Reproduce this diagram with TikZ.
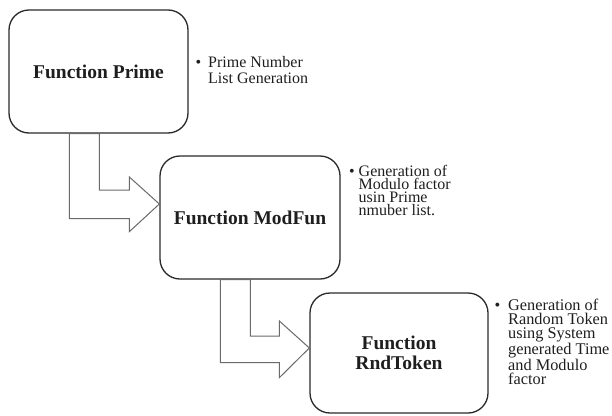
\documentclass[tikz,border=0pt]{standalone}
\usepackage{fontspec}
\setmainfont{Liberation Serif}
\usetikzlibrary{calc}
\definecolor{boxline}{HTML}{2A2A2A}
\definecolor{arrline}{HTML}{6A6A6A}
\definecolor{txt}{HTML}{1E1E1E}
\begin{document}
\begin{tikzpicture}[x=1pt,y=-1pt,
  funcbox/.style={draw=boxline, line width=1.3pt, rounded corners=20pt, inner sep=0pt,
    align=center, text=txt, font=\fontsize{19.5}{20}\selectfont\bfseries},
  blockarrow/.style={draw=arrline, line width=1pt, fill=white, line join=miter},
  note/.style={anchor=base west, inner sep=0pt, text=txt}
]
\useasboundingbox (0,0) rectangle (612,415);
% boxes
\node[funcbox, minimum width=179pt, minimum height=123pt] (p) at (98.5,71.5) {Function Prime};
\node[funcbox, minimum width=180pt, minimum height=123pt] (m) at (250,217.5) {Function ModFun};
\node[funcbox, minimum width=178pt, minimum height=120pt] (r) at (399,353) {Function\\RndToken};
% block arrows
\draw[blockarrow] ($(p.south west)+(61,0)$) -- ++(0,85) -- ++(60,0) -- ++(0,13)
  -- ($(m.west)+(0,-13.5)$) -- ++(-30,-27) -- ++(0,13) -- ++(-30,0) -- ($(p.south west)+(91,0)$) -- cycle;
\draw[blockarrow] ($(m.south west)+(61,0)$) -- ++(0,83) -- ++(59,0) -- ++(0,15)
  -- ($(r.west)+(0,-5)$) -- ++(-30,-27) -- ++(0,15) -- ++(-29,0) -- ($(m.south west)+(91,0)$) -- cycle;
% notes
\node[note] (np) at (208,67.5) {\parbox[t]{110pt}{\raggedright\fontsize{16}{16}\selectfont
  \leavevmode\llap{•\hspace{7pt}}Prime Number\\List Generation}};
\node[note] (nm) at (358.5,176.7) {\parbox[t]{110pt}{\raggedright\fontsize{16}{13}\selectfont
  \leavevmode\llap{•\hspace{4pt}}Generation of\\Modulo factor\\usin Prime\\nmuber list.}};
\node[note] (nr) at (508,310.5) {\parbox[t]{110pt}{\raggedright\fontsize{16.3}{14}\selectfont
  \leavevmode\llap{•\hspace{8pt}}Generation of\\Random Token\\using System\\generated Time\\and Modulo\\factor}};
\end{tikzpicture}
\end{document}
